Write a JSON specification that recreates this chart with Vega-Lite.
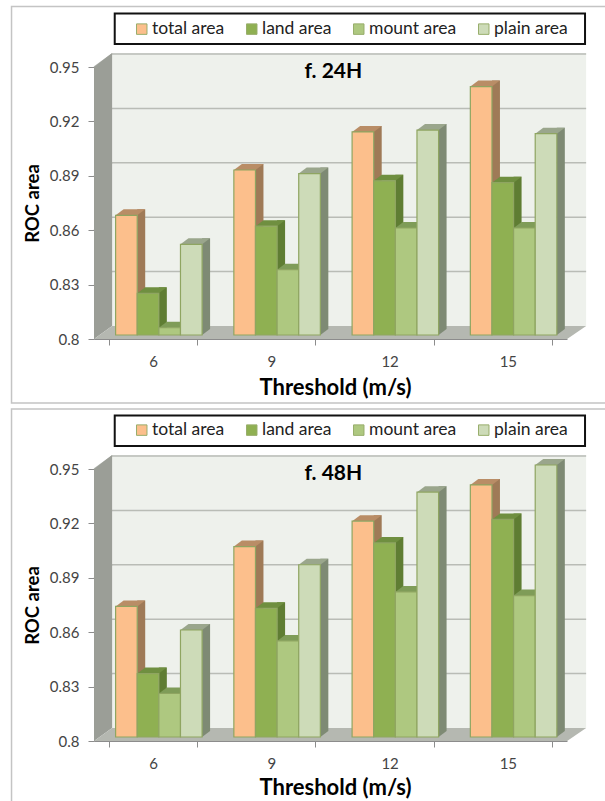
{"$schema":"https://vega.github.io/schema/vega-lite/v6.json","padding":{"left":8,"top":3,"right":0,"bottom":0},"background":"white","config":{"font":"Lato","view":{"stroke":null},"legend":{"orient":"none","legendX":39,"title":null,"columns":4,"symbolType":"square","symbolSize":110,"symbolStrokeColor":"#98ae6c","symbolStrokeWidth":1,"labelFontSize":17.5,"labelFont":"Lato","labelColor":"#222","columnPadding":18,"labelOffset":1.5,"padding":0},"axis":{"domainColor":"#8c8c8c","tickColor":"#8c8c8c","tickSize":6,"grid":false,"labelColor":"#444","titleColor":"#000","titleFontWeight":"bold","titleFont":"Lato","labelFont":"Lato"}},"datasets":{"f24":[{"threshold":6,"series":"total area","roc":0.866},{"threshold":6,"series":"land area","roc":0.823},{"threshold":6,"series":"mount area","roc":0.804},{"threshold":6,"series":"plain area","roc":0.85},{"threshold":9,"series":"total area","roc":0.891},{"threshold":9,"series":"land area","roc":0.86},{"threshold":9,"series":"mount area","roc":0.836},{"threshold":9,"series":"plain area","roc":0.889},{"threshold":12,"series":"total area","roc":0.912},{"threshold":12,"series":"land area","roc":0.885},{"threshold":12,"series":"mount area","roc":0.859},{"threshold":12,"series":"plain area","roc":0.913},{"threshold":15,"series":"total area","roc":0.937},{"threshold":15,"series":"land area","roc":0.884},{"threshold":15,"series":"mount area","roc":0.859},{"threshold":15,"series":"plain area","roc":0.911}],"f48":[{"threshold":6,"series":"total area","roc":0.872},{"threshold":6,"series":"land area","roc":0.835},{"threshold":6,"series":"mount area","roc":0.824},{"threshold":6,"series":"plain area","roc":0.859},{"threshold":9,"series":"total area","roc":0.905},{"threshold":9,"series":"land area","roc":0.871},{"threshold":9,"series":"mount area","roc":0.853},{"threshold":9,"series":"plain area","roc":0.895},{"threshold":12,"series":"total area","roc":0.919},{"threshold":12,"series":"land area","roc":0.907},{"threshold":12,"series":"mount area","roc":0.88},{"threshold":12,"series":"plain area","roc":0.935},{"threshold":15,"series":"total area","roc":0.939},{"threshold":15,"series":"land area","roc":0.92},{"threshold":15,"series":"mount area","roc":0.878},{"threshold":15,"series":"plain area","roc":0.95}],"floor":[{"threshold":6,"roc":0.8}],"feet":[{"threshold":6,"series":"total area","roc":0.8},{"threshold":6,"series":"land area","roc":0.8},{"threshold":6,"series":"mount area","roc":0.8},{"threshold":6,"series":"plain area","roc":0.8},{"threshold":9,"series":"total area","roc":0.8},{"threshold":9,"series":"land area","roc":0.8},{"threshold":9,"series":"mount area","roc":0.8},{"threshold":9,"series":"plain area","roc":0.8},{"threshold":12,"series":"total area","roc":0.8},{"threshold":12,"series":"land area","roc":0.8},{"threshold":12,"series":"mount area","roc":0.8},{"threshold":12,"series":"plain area","roc":0.8},{"threshold":15,"series":"total area","roc":0.8},{"threshold":15,"series":"land area","roc":0.8},{"threshold":15,"series":"mount area","roc":0.8},{"threshold":15,"series":"plain area","roc":0.8}],"ticks":[{"threshold":6,"roc":0.83},{"threshold":6,"roc":0.86},{"threshold":6,"roc":0.89},{"threshold":6,"roc":0.92},{"threshold":6,"roc":0.95}],"head24":[{"threshold":9,"roc":0.95,"label":"f. 24H"}],"head48":[{"threshold":9,"roc":0.95,"label":"f. 48H"}]},"spacing":116,"bounds":"flush","resolve":{"scale":{"fill":"independent"},"legend":{"fill":"independent"}},"vconcat":[{"width":492,"height":286,"resolve":{"scale":{"xOffset":"independent"}},"encoding":{"x":{"field":"threshold","type":"ordinal","scale":{"domain":[6,9,12,15],"range":[0,473],"paddingInner":0.2553,"paddingOuter":0.1277},"axis":{"title":"Threshold (m/s)","titleFontSize":22,"titleX":241,"labelAngle":0,"tickBand":"extent","labelFontSize":15,"labelPadding":9,"titlePadding":8}},"y":{"field":"roc","type":"quantitative","scale":{"domain":[0.8,0.95],"range":[286,14],"nice":false,"zero":false},"axis":{"title":"ROC area","titleFontSize":18.5,"values":[0.8,0.83,0.86,0.89,0.92,0.95],"format":".2~f","labelFontSize":15,"labelPadding":9,"titlePadding":7}}},"layer":[{"data":{"name":"floor"},"mark":{"type":"point","size":4,"filled":false,"opacity":1,"stroke":"#c4c4c4","strokeWidth":1.5,"shape":"M452 -332.5L-141.6 -332.5L-141.6 64L452 64"}},{"data":{"name":"floor"},"mark":{"type":"point","size":4,"filled":true,"opacity":1,"fill":"white","stroke":"#111","strokeWidth":2,"shape":"M-38.4 -325.5L431.9 -325.5L431.9 -295L-38.4 -295Z"}},{"data":{"name":"floor"},"mark":{"type":"point","size":4,"filled":true,"opacity":1,"fill":"#eef1ec","stroke":null,"shape":"M-41 -13L-41 -286L433 -286L433 -13Z"}},{"data":{"name":"ticks"},"mark":{"type":"point","size":4,"filled":false,"opacity":1,"stroke":"#b9bcb6","strokeWidth":1.5,"shape":"M-59.1 0L-41 -13L433 -13"}},{"data":{"name":"floor"},"mark":{"type":"point","size":4,"filled":true,"opacity":1,"fill":"#9b9e97","stroke":null,"shape":"M-59.1 0L-59.1 -272L-41 -286L-41 -13Z"}},{"data":{"name":"floor"},"mark":{"type":"point","size":4,"filled":true,"opacity":1,"fill":"#b5b8b1","stroke":null,"shape":"M-59.1 0L-41 -13L433 -13L414 0Z"}},{"data":{"name":"f24"},"mark":{"type":"bar","width":8,"yOffset":-10,"y2Offset":-10},"encoding":{"xOffset":{"field":"series","type":"nominal","scale":{"domain":["total area","land area","mount area","plain area"],"range":[21.3,107.8]}},"y2":{"datum":0.8},"fill":{"condition":[{"test":"datum.series==='total area'","value":"#9f7a57"},{"test":"datum.series==='land area'","value":"#5f7d33"},{"test":"datum.series==='mount area'","value":"#5f7d33"}],"value":"#7e8a74"}}},{"data":{"name":"feet"},"mark":{"type":"point","size":4,"filled":true,"opacity":1,"stroke":null,"shape":"M17.3 -4L25.3 -10L17.3 -10Z"},"encoding":{"xOffset":{"field":"series","type":"nominal","scale":{"domain":["total area","land area","mount area","plain area"],"range":[0,86.5]}},"fill":{"condition":[{"test":"datum.series==='total area'","value":"#9f7a57"},{"test":"datum.series==='land area'","value":"#5f7d33"},{"test":"datum.series==='mount area'","value":"#5f7d33"}],"value":"#7e8a74"}}},{"data":{"name":"f24"},"mark":{"type":"point","size":4,"filled":true,"opacity":1,"stroke":null,"shape":"M-4.3 -4L17.3 -4L25.3 -10L3.7 -10Z"},"encoding":{"xOffset":{"field":"series","type":"nominal","scale":{"domain":["total area","land area","mount area","plain area"],"range":[0,86.5]}},"fill":{"condition":[{"test":"datum.series==='total area'","value":"#b98d66"},{"test":"datum.series==='land area'","value":"#6f8f40"},{"test":"datum.series==='mount area'","value":"#7f9c58"}],"value":"#9aa68c"}}},{"data":{"name":"f24"},"mark":{"type":"bar","yOffset":-4,"y2Offset":-4,"stroke":"#8fa561","strokeWidth":1.2},"encoding":{"xOffset":{"field":"series","type":"nominal","scale":{"domain":["total area","land area","mount area","plain area"],"range":[6.5,93]}},"y2":{"datum":0.8},"fill":{"field":"series","type":"nominal","scale":{"domain":["total area","land area","mount area","plain area"],"range":["#fcbf8c","#8fb052","#aec880","#cddbb8"]},"legend":{"legendY":-33}}}},{"data":{"name":"head24"},"mark":{"type":"text","font":"Lato","fontWeight":"bold","fontSize":21,"color":"#000","dx":62,"dy":5},"encoding":{"text":{"field":"label"}}}]},{"width":492,"height":286,"resolve":{"scale":{"xOffset":"independent"}},"encoding":{"x":{"field":"threshold","type":"ordinal","scale":{"domain":[6,9,12,15],"range":[0,473],"paddingInner":0.2553,"paddingOuter":0.1277},"axis":{"title":"Threshold (m/s)","titleFontSize":22,"titleX":241,"labelAngle":0,"tickBand":"extent","labelFontSize":15,"labelPadding":9,"titlePadding":6}},"y":{"field":"roc","type":"quantitative","scale":{"domain":[0.8,0.95],"range":[286,14],"nice":false,"zero":false},"axis":{"title":"ROC area","titleFontSize":18.5,"values":[0.8,0.83,0.86,0.89,0.92,0.95],"format":".2~f","labelFontSize":15,"labelPadding":9,"titlePadding":7}}},"layer":[{"data":{"name":"floor"},"mark":{"type":"point","size":4,"filled":false,"opacity":1,"stroke":"#c4c4c4","strokeWidth":1.5,"shape":"M452 -332L-141.6 -332L-141.6 62"}},{"data":{"name":"floor"},"mark":{"type":"point","size":4,"filled":true,"opacity":1,"fill":"white","stroke":"#111","strokeWidth":2,"shape":"M-38.4 -325.5L431.9 -325.5L431.9 -295L-38.4 -295Z"}},{"data":{"name":"floor"},"mark":{"type":"point","size":4,"filled":true,"opacity":1,"fill":"#eef1ec","stroke":null,"shape":"M-41 -13L-41 -286L433 -286L433 -13Z"}},{"data":{"name":"ticks"},"mark":{"type":"point","size":4,"filled":false,"opacity":1,"stroke":"#b9bcb6","strokeWidth":1.5,"shape":"M-59.1 0L-41 -13L433 -13"}},{"data":{"name":"floor"},"mark":{"type":"point","size":4,"filled":true,"opacity":1,"fill":"#9b9e97","stroke":null,"shape":"M-59.1 0L-59.1 -272L-41 -286L-41 -13Z"}},{"data":{"name":"floor"},"mark":{"type":"point","size":4,"filled":true,"opacity":1,"fill":"#b5b8b1","stroke":null,"shape":"M-59.1 0L-41 -13L433 -13L414 0Z"}},{"data":{"name":"f48"},"mark":{"type":"bar","width":8,"yOffset":-10,"y2Offset":-10},"encoding":{"xOffset":{"field":"series","type":"nominal","scale":{"domain":["total area","land area","mount area","plain area"],"range":[21.3,107.8]}},"y2":{"datum":0.8},"fill":{"condition":[{"test":"datum.series==='total area'","value":"#9f7a57"},{"test":"datum.series==='land area'","value":"#5f7d33"},{"test":"datum.series==='mount area'","value":"#5f7d33"}],"value":"#7e8a74"}}},{"data":{"name":"feet"},"mark":{"type":"point","size":4,"filled":true,"opacity":1,"stroke":null,"shape":"M17.3 -4L25.3 -10L17.3 -10Z"},"encoding":{"xOffset":{"field":"series","type":"nominal","scale":{"domain":["total area","land area","mount area","plain area"],"range":[0,86.5]}},"fill":{"condition":[{"test":"datum.series==='total area'","value":"#9f7a57"},{"test":"datum.series==='land area'","value":"#5f7d33"},{"test":"datum.series==='mount area'","value":"#5f7d33"}],"value":"#7e8a74"}}},{"data":{"name":"f48"},"mark":{"type":"point","size":4,"filled":true,"opacity":1,"stroke":null,"shape":"M-4.3 -4L17.3 -4L25.3 -10L3.7 -10Z"},"encoding":{"xOffset":{"field":"series","type":"nominal","scale":{"domain":["total area","land area","mount area","plain area"],"range":[0,86.5]}},"fill":{"condition":[{"test":"datum.series==='total area'","value":"#b98d66"},{"test":"datum.series==='land area'","value":"#6f8f40"},{"test":"datum.series==='mount area'","value":"#7f9c58"}],"value":"#9aa68c"}}},{"data":{"name":"f48"},"mark":{"type":"bar","yOffset":-4,"y2Offset":-4,"stroke":"#8fa561","strokeWidth":1.2},"encoding":{"xOffset":{"field":"series","type":"nominal","scale":{"domain":["total area","land area","mount area","plain area"],"range":[6.5,93]}},"y2":{"datum":0.8},"fill":{"field":"series","type":"nominal","scale":{"domain":["total area","land area","mount area","plain area"],"range":["#fcbf8c","#8fb052","#aec880","#cddbb8"]},"legend":{"legendY":-34}}}},{"data":{"name":"head48"},"mark":{"type":"text","font":"Lato","fontWeight":"bold","fontSize":21,"color":"#000","dx":62,"dy":5},"encoding":{"text":{"field":"label"}}}]}]}
